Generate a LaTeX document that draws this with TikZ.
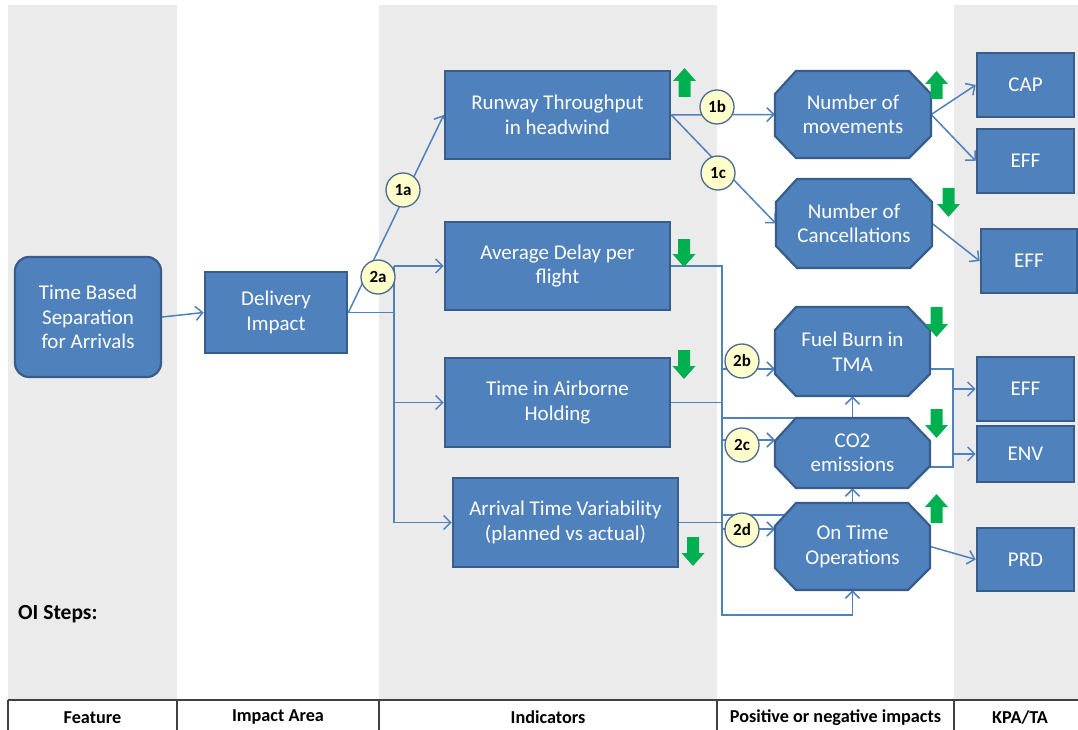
\documentclass[tikz,border=0pt]{standalone}
\usepackage{fontspec}
\setmainfont{Carlito}
\usetikzlibrary{arrows.meta,calc}

\definecolor{boxfill}{HTML}{4F81BD}
\definecolor{boxline}{HTML}{385D8A}
\definecolor{wire}{HTML}{4F81BD}
\definecolor{colgray}{HTML}{EBEBEB}
\definecolor{trend}{HTML}{00B050}
\definecolor{tagfill}{HTML}{FFFFCC}
\definecolor{tagline}{HTML}{4B6A8F}
\definecolor{gridline}{HTML}{404040}

\pgfdeclarelayer{paper}
\pgfdeclarelayer{wires}
\pgfsetlayers{paper,wires,main}

\tikzset{
  boxtext/.style={text=white, font=\fontsize{21}{24.5}\selectfont, align=center},
  box/.style={boxtext, draw=boxline, fill=boxfill, line width=2.6pt, inner sep=0pt},
  roundbox/.style={box, rounded corners=14pt, line width=2.2pt},
  octshape/.style={draw=boxline, fill=boxfill, line width=2.2pt, line join=round},
  octtext/.style={boxtext, inner sep=0pt},
  wireline/.style={draw=wire, line width=1.5pt},
  tip/.style={-{Straight Barb[length=7pt,width=14pt]}},
  tag/.style={circle, draw=tagline, fill=tagfill, line width=1.3pt, minimum size=34pt,
              inner sep=0pt, font=\bfseries\fontsize{17}{20}\selectfont},
  trendarrow/.style={fill=trend, draw=none},
  headtext/.style={font=\bfseries\fontsize{18.2}{21}\selectfont},
}

% octagon drawn behind a named text node: name, cx, cy, w, h, text
\newcommand\octbox[6]{%
  \path[octshape] (#2-#4/2+21,#3-#5/2) -- (#2+#4/2-22,#3-#5/2) -- (#2+#4/2,#3-#5/2+23)
    -- (#2+#4/2,#3+#5/2-22) -- (#2+#4/2-22,#3+#5/2) -- (#2-#4/2+21,#3+#5/2)
    -- (#2-#4/2,#3+#5/2-22) -- (#2-#4/2,#3-#5/2+23) -- cycle;
  \node[octtext, minimum width=#4, minimum height=#5] (#1) at (#2,#3) {#6};}

% block arrows showing the trend: centre x, top y, bottom y
\newcommand\trendup[3]{%
  \path[trendarrow] (#1,#2) -- (#1+11.5,#2+13) -- (#1+6,#2+13) -- (#1+6,#3)
    -- (#1-6,#3) -- (#1-6,#2+13) -- (#1-11.5,#2+13) -- cycle;}
\newcommand\trenddown[3]{%
  \path[trendarrow] (#1,#3) -- (#1+11.5,#3-13) -- (#1+6,#3-13) -- (#1+6,#2)
    -- (#1-6,#2) -- (#1-6,#3-13) -- (#1-11.5,#3-13) -- cycle;}

\begin{document}
\begin{tikzpicture}[x=1pt,y=-1pt]
\useasboundingbox (0,0) rectangle (1078,730);

% column bands and header row
\begin{pgfonlayer}{paper}
  \fill[white] (0,0) rectangle (1078,730);
  \fill[colgray] (8,5) rectangle (177,700);
  \fill[colgray] (379,5) rectangle (717,700);
  \fill[colgray] (954,5) rectangle (1078,700);
  \draw[gridline, line width=1.2pt] (8,700) -- (1078,700);
  \foreach \gx in {8,177,379,717,954} \draw[gridline, line width=1.2pt] (\gx,700) -- (\gx,730);
\end{pgfonlayer}

\node[headtext] (hfeature) at (92.5,717.5) {Feature};
\node[headtext] (harea) at (278,717.5) {Impact Area};
\node[headtext] (hind) at (548,717.5) {Indicators};
\node[headtext] (himp) at (835.5,717.5) {Positive or negative impacts};
\node[headtext] (hkpa) at (1020,717.5) {KPA/TA};
\node[font=\bfseries\fontsize{21.5}{24}\selectfont, anchor=west, inner sep=0pt] (oisteps) at (18,614) {OI Steps:};

% feature and impact area
\node[roundbox, minimum width=146, minimum height=120] (tbs) at (88,317) {Time Based\\Separation\\for Arrivals};
\node[box, minimum width=142, minimum height=81] (delivery) at (276,312.5) {Delivery\\Impact};

% indicators
\node[box, minimum width=225, minimum height=88] (runway) at (557.5,115) {Runway Throughput\\in headwind};
\node[box, minimum width=225, minimum height=88] (delay) at (557.5,266) {Average Delay per\\flight};
\node[box, minimum width=225, minimum height=89] (holding) at (557.5,402.5) {Time in Airborne\\Holding};
\node[box, minimum width=225, minimum height=89] (variab) at (565.5,522.5) {Arrival Time Variability\\(planned vs actual)};

% impacts
\octbox{moves}{853}{114.5}{156}{87}{Number of\\movements}
\octbox{cancel}{854}{223.5}{156}{89}{Number of\\Cancellations}
\octbox{fuel}{852.5}{351.5}{155}{89}{Fuel Burn in\\TMA}
\octbox{co2}{852.5}{453}{155}{70}{CO2\\emissions}
\octbox{ontime}{852.5}{546.5}{155}{87}{On Time\\Operations}

% KPA / TA
\node[box, minimum width=97, minimum height=64] (cap) at (1025.5,85) {CAP};
\node[box, minimum width=97, minimum height=64] (effa) at (1025.5,161) {EFF};
\node[box, minimum width=96, minimum height=64] (effb) at (1029,261) {EFF};
\node[box, minimum width=97, minimum height=64] (effc) at (1025.5,389) {EFF};
\node[box, minimum width=97, minimum height=56] (env) at (1025.5,454) {ENV};
\node[box, minimum width=97, minimum height=63] (prd) at (1025.5,559.5) {PRD};

% junction points of the connectors
\coordinate (split) at (394,312.5);
\coordinate (busfoot) at (722,615);
\coordinate (infuel) at (775,369);
\coordinate (inco2) at (775,440);
\coordinate (inontime) at (775,529);
\coordinate (co2feed) at (722,515);
\coordinate (outfuel) at (930,369);
\coordinate (outco2) at (930,467);
\coordinate (kbus) at (953,369);

\begin{pgfonlayer}{wires}
  \draw[wireline, tip] (tbs.east) -- (delivery.west);
  \draw[wireline, tip] (delivery.east) -- (runway.west);
  \draw[wireline] (delivery.east) -- (split);
  \draw[wireline] (split |- delay.west) -- (split |- variab.west);
  \draw[wireline, tip] (split |- delay.west) -- (delay.west);
  \draw[wireline, tip] (split |- holding.west) -- (holding.west);
  \draw[wireline, tip] (split |- variab.west) -- (variab.west);

  \draw[wireline, tip] (runway.east) -- (moves.west);
  \draw[wireline, tip] (runway.east) -- (cancel.west);
  \draw[wireline, tip] (moves.east) -- (cap.west);
  \draw[wireline, tip] (moves.east) -- (effa.west);
  \draw[wireline, tip] (cancel.east) -- (effb.west);

  \draw[wireline, tip] (delay.east) -| (busfoot) -| (ontime.south);
  \draw[wireline] (holding.east) -- (holding.east -| busfoot);
  \draw[wireline] (variab.east) -- (variab.east -| busfoot);
  \draw[wireline, tip] (infuel -| busfoot) -- (infuel);
  \draw[wireline, tip] (busfoot |- co2.north) -| (fuel.south);
  \draw[wireline, tip] (inco2 -| busfoot) -- (inco2);
  \draw[wireline, tip] (co2feed) -| (co2.south);
  \draw[wireline, tip] (inontime -| busfoot) -- (inontime);

  \draw[wireline] (outfuel) -- (kbus) -- (kbus |- outco2) -- (outco2);
  \draw[wireline, tip] (kbus |- effc.west) -- (effc.west);
  \draw[wireline, tip] (kbus |- env.west) -- (env.west);
  \draw[wireline, tip] (ontime.east) -- (prd.west);
\end{pgfonlayer}

% step tags
\node[tag] (s1a) at (403,190) {1a};
\node[tag] (s2a) at (378,277) {2a};
\node[tag] (s1b) at (717,107) {1b};
\node[tag] (s1c) at (718,173) {1c};
\node[tag] (s2b) at (742,361) {2b};
\node[tag] (s2c) at (742,445) {2c};
\node[tag] (s2d) at (742,530) {2d};

% trends
\trendup{684.5}{68}{97}
\trendup{936.5}{71}{99}
\trendup{936.5}{494}{523}
\trenddown{684}{239}{267}
\trenddown{684}{350}{379}
\trenddown{693}{537}{566}
\trenddown{948.5}{188}{217}
\trenddown{936.5}{307}{337}
\trenddown{936.5}{409}{438}
\end{tikzpicture}
\end{document}
